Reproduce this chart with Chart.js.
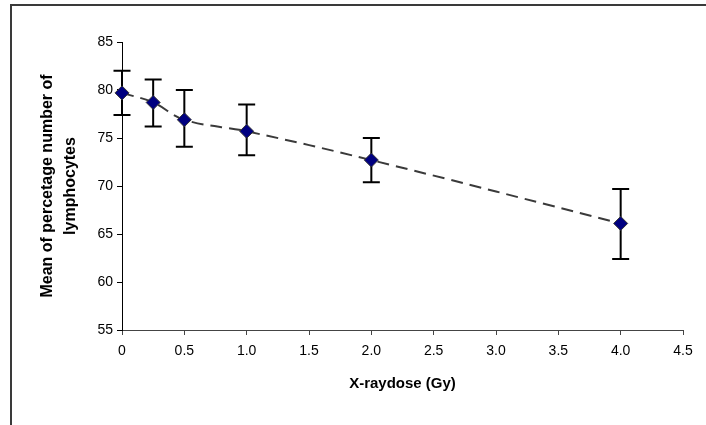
<!DOCTYPE html>
<html>
<head>
<meta charset="utf-8">
<script src="https://cdn.jsdelivr.net/npm/chart.js@4"></script>
<style>
  html, body { margin: 0; padding: 0; background: #fff; }
  #wrap { position: relative; width: 706px; height: 425px; overflow: hidden; }
  #frame { position: absolute; left: 10px; top: 4px; width: 720px; height: 440px;
           border-top: 2px solid #3a3a3a; border-left: 2px solid #3a3a3a; }
  canvas { position: absolute; left: 0; top: 0; }
</style>
</head>
<body>
<div id="wrap">
  <div id="frame"></div>
  <canvas id="chart" width="706" height="425"></canvas>
</div>
<script>
// Dose (Gy) e médias
const doses = [0, 0.25, 0.5, 1, 2, 4];
const means = [79.7, 78.7, 76.9, 75.7, 72.7, 66.1];
const errUpper = [82.0, 81.1, 80.0, 78.5, 75.0, 69.7];
const errLower = [77.4, 76.2, 74.1, 73.2, 70.4, 62.4];
const yTitle = ['Mean of percetage number of', 'lymphocytes'];
const xTitle = 'X-raydose (Gy)';

const FONT = 'Arial, "Liberation Sans", sans-serif';

// Desenha as barras de erro usando as escalas do gráfico
const errorBars = {
    id: 'errorBars',
    beforeDatasetsDraw(chart) {
        const ctx = chart.ctx;
        const xs = chart.scales.x;
        const ys = chart.scales.y;
        ctx.save();
        ctx.strokeStyle = '#000';
        ctx.lineWidth = 2;
        doses.forEach((d, i) => {
            const px = xs.getPixelForValue(d);
            const top = ys.getPixelForValue(errUpper[i]);
            const bot = ys.getPixelForValue(errLower[i]);
            ctx.beginPath();
            ctx.moveTo(px, top); ctx.lineTo(px, bot);
            ctx.moveTo(px - 8.5, top); ctx.lineTo(px + 8.5, top);
            ctx.moveTo(px - 8.5, bot); ctx.lineTo(px + 8.5, bot);
            ctx.stroke();
        });
        ctx.restore();
    }
};

new Chart(document.getElementById('chart').getContext('2d'), {
    type: 'line',
    data: {
        datasets: [{
            data: doses.map((d, i) => ({ x: d, y: means[i] })),
            borderColor: '#3a3a3a',
            borderWidth: 2,
            borderDash: [12, 7],
            tension: 0.4,
            clip: false,
            pointStyle: 'rectRot',
            pointRadius: 7,
            pointBackgroundColor: '#000080',
            pointBorderColor: '#333',
            pointBorderWidth: 1
        }]
    },
    options: {
        responsive: false,
        animation: false,
        layout: { padding: { top: 42, right: 23, bottom: 32, left: 37 } },
        plugins: { legend: { display: false }, tooltip: { enabled: false } },
        scales: {
            x: {
                type: 'linear',
                min: 0, max: 4.5,
                afterFit: s => { s.height = 63; },
                ticks: { stepSize: 0.5, color: '#000', padding: 8, font: { family: FONT, size: 14 }, maxRotation: 0 },
                grid: { display: true, drawOnChartArea: false, drawTicks: true, tickLength: 5, color: '#444' },
                border: { display: true, color: '#444', width: 1 },
                title: { display: true, text: xTitle, color: '#000', padding: 0,
                         font: { family: FONT, size: 15, weight: 'bold', lineHeight: 1.2 } }
            },
            y: {
                min: 55, max: 85,
                afterFit: s => { s.width = 85; },
                ticks: { stepSize: 5, color: '#000', padding: 4, font: { family: FONT, size: 14 } },
                grid: { display: true, drawOnChartArea: false, drawTicks: true, tickLength: 5, color: '#000' },
                border: { display: true, color: '#000', width: 1 },
                title: { display: true, text: yTitle, color: '#000', padding: 0,
                         font: { family: FONT, size: 16, weight: 'bold', lineHeight: 1.38 } }
            }
        }
    },
    plugins: [errorBars]
});
</script>
</body>
</html>
